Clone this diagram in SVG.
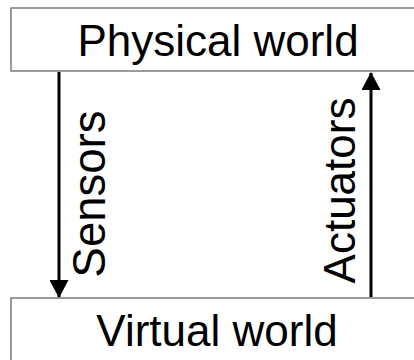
<svg xmlns="http://www.w3.org/2000/svg" width="414" height="360" viewBox="0 0 414 360">
<style>
.box{fill:#fff;stroke:#7a7a7a;stroke-width:1.5}
.t{font-family:"Liberation Sans",Arial,sans-serif;font-size:44px;fill:#000}
.c{stroke:#000;stroke-width:3;fill:none}
</style>
<defs>
<marker id="ah" viewBox="0 0 18 19" refX="17" refY="9.5" markerWidth="18" markerHeight="19" markerUnits="userSpaceOnUse" orient="auto">
<path d="M0,0 L18,9.5 L0,19 z" fill="#000"/>
</marker>
</defs>
<rect width="414" height="360" fill="#fff"/>
<g id="physical">
<rect class="box" x="11" y="8" width="410" height="63"/>
<text class="t" x="218" y="56" text-anchor="middle">Physical world</text>
</g>
<g id="virtual">
<rect class="box" x="11" y="298" width="410" height="70"/>
<text class="t" x="217" y="346" text-anchor="middle">Virtual world</text>
</g>
<g id="connectors">
<line class="c" x1="59" y1="72" x2="59" y2="297" marker-end="url(#ah)"/>
<text class="t" transform="translate(104.5,194) rotate(-90)" text-anchor="middle" style="font-size:45.5px">Sensors</text>
<line class="c" x1="371" y1="297" x2="371" y2="73" marker-end="url(#ah)"/>
<text class="t" transform="translate(355,190.5) rotate(-90)" text-anchor="middle">Actuators</text>
</g>
</svg>
